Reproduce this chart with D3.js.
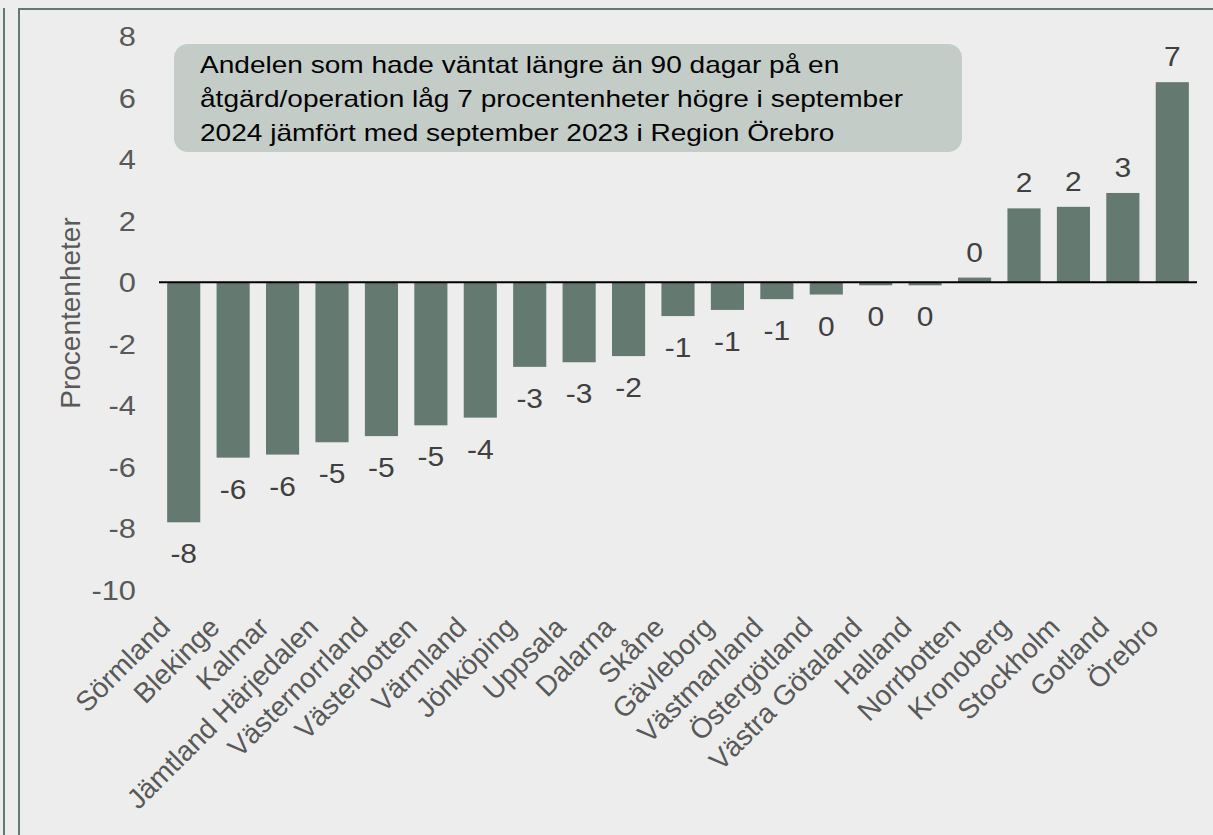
<!DOCTYPE html>
<html>
<head>
<meta charset="utf-8">
<script src="https://cdn.jsdelivr.net/npm/d3@7"></script>
<style>
  body { margin: 0; background: #ededed; }
  svg { display: block; }
</style>
</head>
<body>
<div id="RegionChart"></div>
<script>
// Data
var regions = ['Sörmland', 'Blekinge', 'Kalmar', 'Jämtland Härjedalen', 'Västernorrland',
  'Västerbotten', 'Värmland', 'Jönköping', 'Uppsala', 'Dalarna', 'Skåne', 'Gävleborg',
  'Västmanland', 'Östergötland', 'Västra Götaland', 'Halland', 'Norrbotten', 'Kronoberg',
  'Stockholm', 'Gotland', 'Örebro'];
var change = [-7.8, -5.7, -5.6, -5.2, -5.0, -4.65, -4.4, -2.75, -2.6, -2.4, -1.1, -0.9,
  -0.55, -0.4, -0.1, -0.1, 0.15, 2.4, 2.45, 2.9, 6.5];
var yTicks = [-10, -8, -6, -4, -2, 0, 2, 4, 6, 8];
var noteLines = ['Andelen som hade väntat längre än 90 dagar på en',
  'åtgärd/operation låg 7 procentenheter högre i september',
  '2024 jämfört med september 2023 i Region Örebro'];
var yTitle = 'Procentenheter';

function build_bar_chart(){
    var W = 1213, H = 835;
    var frameColor = '#64796f';
    var barColor = '#647a70';
    var font = 'Liberation Sans, Arial, sans-serif';

    var svg = d3.select('#RegionChart')
        .append('svg')
            .attr('width', W)
            .attr('height', H);

    svg.append('rect')
        .attr('width', W)
        .attr('height', H)
        .style('fill', '#ededed');

    // frame lines round the panel
    svg.append('line').attr('x1', 4).attr('x2', 4).attr('y1', 8).attr('y2', H)
        .style('stroke', frameColor).style('stroke-width', 2);
    svg.append('line').attr('x1', 19).attr('x2', 19).attr('y1', 8).attr('y2', H)
        .style('stroke', frameColor).style('stroke-width', 2);
    svg.append('line').attr('x1', 18).attr('x2', W).attr('y1', 9).attr('y2', 9)
        .style('stroke', frameColor).style('stroke-width', 2);

    // scales
    var x = d3.scaleBand()
        .domain(regions)
        .range([159, 1197])
        .paddingInner(0.33)
        .paddingOuter(0.165);
    var y = d3.scaleLinear()
        .domain([-10, 8])
        .range([590, 36]);

    // y axis, labels only (plain hyphen for minus, like the original)
    var yAxis = svg.append('g')
        .attr('transform', 'translate(136,0)')
        .call(d3.axisLeft(y).tickValues(yTicks).tickSize(0).tickPadding(0)
            .tickFormat(function(d){ return String(d); }));
    yAxis.select('.domain').remove();
    yAxis.selectAll('.tick').attr('transform', null);
    yAxis.selectAll('text')
        .attr('x', null)
        .attr('y', null)
        .attr('dy', null)
        .attr('transform', function(d){ return 'translate(0,' + (y(d) + 10) + ') scale(1.1,1)'; })
        .style('font-family', font)
        .style('font-size', '28px')
        .style('fill', '#595959');

    // y title
    svg.append('text')
        .attr('transform', 'translate(80,' + y(-1) + ') rotate(-90)')
        .attr('text-anchor', 'middle')
        .style('font-family', font)
        .style('font-size', '28px')
        .style('fill', '#595959')
        .text(yTitle);

    // bars
    svg.selectAll('.bar')
        .data(regions)
        .enter().append('rect')
            .attr('class', 'bar')
            .attr('x', function(d){ return x(d); })
            .attr('width', x.bandwidth())
            .attr('y', function(d, i){ return y(Math.max(0, change[i])); })
            .attr('height', function(d, i){ return Math.abs(y(change[i]) - y(0)); })
            .style('fill', barColor);

    // zero line
    svg.append('line')
        .attr('x1', x.range()[0])
        .attr('x2', x.range()[1])
        .attr('y1', y(0))
        .attr('y2', y(0))
        .style('stroke', '#000')
        .style('stroke-width', 2);

    // value labels, rounded to whole numbers
    svg.selectAll('.val')
        .data(regions)
        .enter().append('text')
            .attr('class', 'val')
            .attr('text-anchor', 'middle')
            .attr('transform', function(d, i){
                var v = change[i];
                var ty = v >= 0 ? y(v) - 16 : y(v) + 41;
                return 'translate(' + (x(d) + x.bandwidth() / 2) + ',' + ty + ') scale(1.07,1)';
            })
            .style('font-family', font)
            .style('font-size', '28px')
            .style('fill', '#404040')
            .text(function(d, i){
                var r = Math.round(change[i]);
                return r === 0 ? '0' : String(r);
            });

    // category labels at 45 degrees
    svg.selectAll('.cat')
        .data(regions)
        .enter().append('text')
            .attr('class', 'cat')
            .attr('text-anchor', 'end')
            .attr('transform', function(d){
                return 'translate(' + (x(d) + x.bandwidth() / 2 - 12) + ',629) rotate(-45)';
            })
            .style('font-family', font)
            .style('font-size', '28px')
            .style('fill', '#595959')
            .text(function(d){ return d; });

    // note box
    var note = svg.append('g');
    note.append('rect')
        .attr('x', 174)
        .attr('y', 44)
        .attr('width', 788)
        .attr('height', 108)
        .attr('rx', 14)
        .attr('ry', 14)
        .style('fill', '#c3ccc7');
    note.selectAll('text')
        .data(noteLines)
        .enter().append('text')
            .attr('transform', function(d, i){ return 'translate(200,' + (73 + i * 34) + ') scale(1.22,1)'; })
            .style('font-family', font)
            .style('font-size', '23px')
            .style('fill', '#000')
            .text(function(d){ return d; });
}

build_bar_chart();
</script>
</body>
</html>
